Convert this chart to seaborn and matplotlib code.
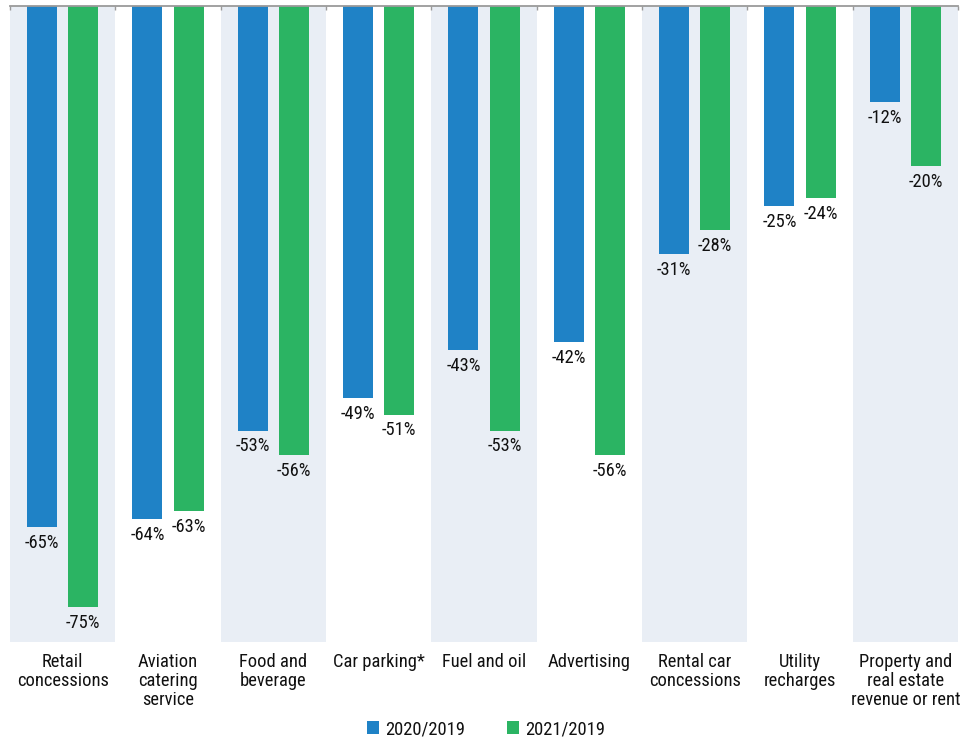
import matplotlib
matplotlib.use("Agg")
import matplotlib.pyplot as plt
import seaborn as sns
import pandas as pd
from matplotlib.patches import Patch

categories = [
    "Retail\nconcessions",
    "Aviation\ncatering\nservice",
    "Food and\nbeverage",
    "Car parking*",
    "Fuel and oil",
    "Advertising",
    "Rental car\nconcessions",
    "Utility\nrecharges",
    "Property and\nreal estate\nrevenue or rent",
]
series_names = ["2020/2019", "2021/2019"]
change_2020 = [-65, -64, -53, -49, -43, -42, -31, -25, -12]
change_2021 = [-75, -63, -56, -51, -53, -56, -28, -24, -20]

colors = ["#1f82c6", "#2bb463"]
shade = "#e9eef5"
text_color = "#111111"
fs = 13.3

df = pd.DataFrame({
    "category": categories * 2,
    "period": [series_names[0]] * len(categories) + [series_names[1]] * len(categories),
    "value": change_2020 + change_2021,
})

sns.set_theme(style="white")
plt.rcParams["font.family"] = ["Roboto Condensed", "DejaVu Sans"]
plt.rcParams["text.color"] = text_color

fig = plt.figure(figsize=(9.66, 7.37), dpi=100)
ax = fig.add_axes([10 / 966, 1 - 642 / 737, 948 / 966, 636 / 737])

# alternating column shading
for i in range(0, len(categories), 2):
    ax.axvspan(i - 0.5, i + 0.5, color=shade, lw=0, zorder=0)

sns.barplot(
    data=df, x="category", y="value", hue="period",
    palette=colors, width=0.78, gap=0.27, ax=ax,
    legend=False, zorder=2, saturation=1, linewidth=0,
)

for cont in ax.containers:
    vals = [b.get_height() for b in cont]
    ax.bar_label(cont, labels=[f"{v:.0f}%" for v in vals], padding=5,
                 fontsize=fs, color=text_color)

ax.set_xlim(-0.5, len(categories) - 0.5)
ax.set_ylim(-79.4, 0)
ax.set_xlabel("")
ax.set_ylabel("")
ax.set_yticks([])

for side in ["left", "right", "bottom"]:
    ax.spines[side].set_visible(False)
ax.spines["top"].set_color("#9a9a9a")
ax.spines["top"].set_linewidth(1.3)
ax.spines["top"].set_zorder(3)

ax.set_xticks([i - 0.5 for i in range(len(categories) + 1)], minor=True)
ax.tick_params(axis="x", which="minor", top=True, bottom=False, direction="in",
               length=3, width=1, color="#9a9a9a")
ax.tick_params(axis="x", which="major", bottom=True, top=False, length=0,
               pad=8, labelsize=fs, labelcolor=text_color)
for lbl in ax.get_xticklabels():
    lbl.set_linespacing(1.05)

handles = [Patch(facecolor=c, edgecolor="none") for c in colors]
fig.legend(handles, series_names, loc="center", bbox_to_anchor=(0.503, 1 - 729 / 737),
           ncol=2, frameon=False, fontsize=fs, handlelength=0.65, handleheight=0.65,
           handletextpad=0.3, columnspacing=2.3)

fig.savefig("out.png", dpi=100)
